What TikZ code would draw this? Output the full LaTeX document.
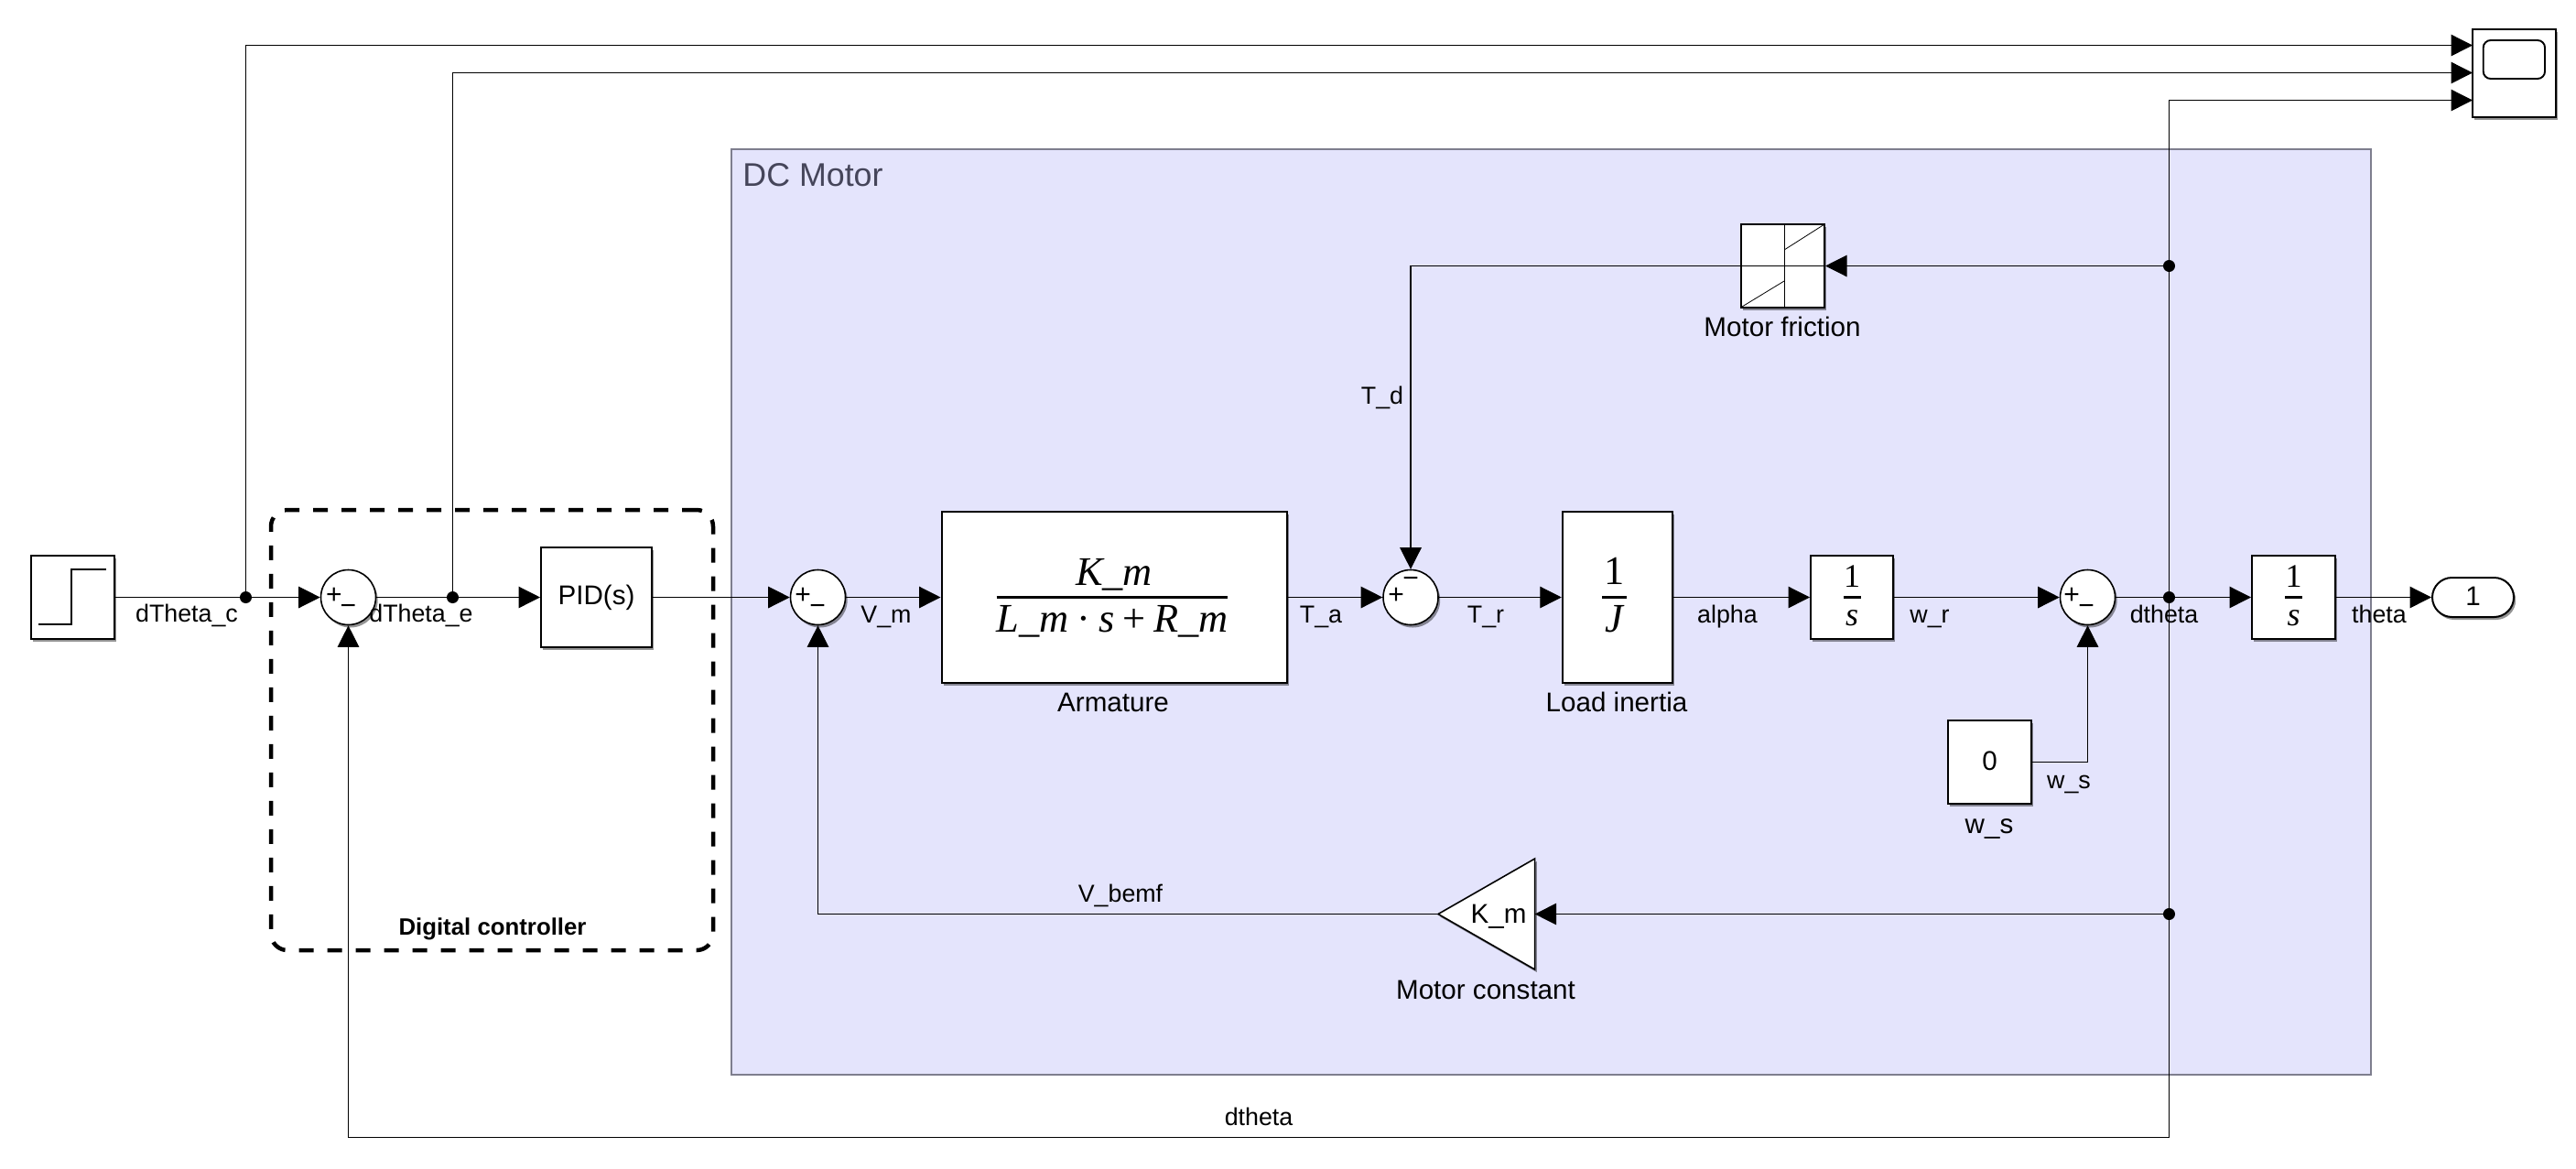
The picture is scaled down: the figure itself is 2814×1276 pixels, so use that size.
\documentclass[tikz,border=0pt]{standalone}
\usepackage{fontspec}
\setmainfont{Liberation Sans}
\newfontfamily\mathserif{Liberation Serif}
\usetikzlibrary{arrows.meta,shadows,shapes.misc}
\definecolor{scopefill}{HTML}{E4E4FC}
\definecolor{scopeedge}{HTML}{7E7E8E}
\definecolor{scopetext}{HTML}{45455A}
\newcommand{\lblsize}{\fontsize{13.4}{16}\selectfont}
\newcommand{\namesize}{\fontsize{14.8}{18}\selectfont}
\newcommand{\fracsize}{\mathserif\fontsize{22.2}{26}\selectfont}
\newcommand{\intsize}{\mathserif\fontsize{18}{22}\selectfont}
\tikzset{
  x=0.5pt,y=-0.5pt,
  softshadow/.style={general shadow={fill=black,opacity=.42,shadow xshift=1.1pt,shadow yshift=-1.5pt}},
  block/.style={draw=black,line width=1pt,fill=white,inner sep=0pt,softshadow,font=\namesize},
  sumblock/.style={circle,draw=black,line width=0.8pt,fill=white,inner sep=0pt,minimum size=30pt,softshadow},
  junction/.style={circle,fill=black,inner sep=0pt,minimum size=6.5pt},
  wire/.style={line width=0.6pt,draw=black},
  flow/.style={wire,-{Triangle[length=11.75pt,width=11.75pt]}},
  lbl/.style={anchor=base,inner sep=0pt,font=\lblsize},
  blockname/.style={anchor=base,inner sep=0pt,font=\namesize},
  sign/.style={inner sep=0pt,font=\fontsize{15}{18}\selectfont},
  fracpart/.style={anchor=base,inner sep=0pt,font=\fracsize},
  intpart/.style={anchor=base,inner sep=0pt,font=\intsize},
  bar/.style={line width=1.15pt,draw=black},
}
\begin{document}
\begin{tikzpicture}
\useasboundingbox (0,0) rectangle (2814,1276);
% subsystem area
\node[draw=scopeedge,line width=0.6pt,fill=scopefill,minimum width=895.5pt,minimum height=505.5pt,inner sep=0pt] (motorarea) at (1694.5,668.5) {};
\node[anchor=base west,inner sep=0pt,text=scopetext,font=\fontsize{17.9}{21}\selectfont] (motortitle) at (811,203) {DC Motor};
% controller frame
\node[draw=black,line width=2.25pt,dash pattern=on 8pt off 7.5pt,rounded corners=9pt,minimum width=241.5pt,minimum height=240.5pt,inner sep=0pt] (ctrlframe) at (537.5,797.5) {};
\node[anchor=base,inner sep=0pt,font=\bfseries\fontsize{12.9}{15}\selectfont] (ctrlname) at (538,1021) {Digital controller};
% blocks
\node[block,minimum width=45.5pt,minimum height=45.5pt] (step) at (79,652.5) {};
\draw[line width=0.75pt] (42,682) -- (78,682) -- (78,622) -- (116,622);
\node[sumblock] (sum1) at (380.5,652.5) {};
\node[sign] (p1) at (365,651) {+};
\node[sign] (m1) at (380.5,666) {−};
\node[block,minimum width=60.5pt,minimum height=54.5pt] (pid) at (651.5,652.5) {PID(s)};
\node[sumblock] (sum2) at (893.5,652.5) {};
\node[sign] (p2) at (877,651) {+};
\node[sign] (m2) at (893,666) {−};
\node[block,minimum width=188.5pt,minimum height=93.5pt] (arm) at (1217,652.5) {};
\node[fracpart] (armnum) at (1217,639) {\itshape K\_m};
\node[fracpart] (armden) at (1215,690) {\itshape L\_m\hspace{.2em}{\upshape·}\hspace{.2em}s\hspace{.2em}{\upshape+}\hspace{.2em}R\_m};
\draw[bar] (1088.5,652.5) -- (1341,652.5);
\node[blockname] (armname) at (1216,777) {Armature};
\node[sumblock] (sum3) at (1541,652.5) {};
\node[sign] (p3) at (1525,651) {+};
\node[sign] (m3) at (1541,636) {−};
\node[block,minimum width=60.25pt,minimum height=93.5pt] (inertia) at (1767,652.5) {};
\node[fracpart] (jnum) at (1763.5,638) {1};
\node[fracpart] (jden) at (1763.5,690) {\itshape J};
\draw[bar] (1750,652.5) -- (1777,652.5);
\node[blockname] (inertianame) at (1766,777) {Load inertia};
\node[block,minimum width=45pt,minimum height=45.5pt] (int1) at (2023,652.5) {};
\node[intpart] (i1num) at (2023,641) {1};
\node[intpart] (i1den) at (2023,683) {\itshape s};
\draw[bar] (2014,652.5) -- (2033,652.5);
\node[sumblock] (sum4) at (2280.5,652.5) {};
\node[sign] (p4) at (2263,651) {+};
\node[sign] (m4) at (2279,666) {−};
\node[block,minimum width=45.5pt,minimum height=45.5pt] (int2) at (2505.5,652.5) {};
\node[intpart] (i2num) at (2505.5,641) {1};
\node[intpart] (i2den) at (2505.5,683) {\itshape s};
\draw[bar] (2496,652.5) -- (2515,652.5);
\node[block,rounded rectangle,minimum width=44.5pt,minimum height=21.5pt] (outport) at (2701.5,652.5) {\raisebox{1pt}{1}};
\node[block,minimum width=45.25pt,minimum height=45.5pt] (wsblock) at (2173.5,832.5) {\raisebox{1pt}{0}};
\node[blockname] (wsname) at (2173,910) {w\_s};
% friction block
\node[block,minimum width=45.5pt,minimum height=45.5pt] (friction) at (1947.5,290.5) {};
\draw[line width=0.4pt] (1949,245) -- (1949,335) (1903,290.5) -- (1993,290.5);
\draw[line width=0.4pt] (1903,335) -- (1949,307) (1949,273) -- (1993,245);
\node[blockname] (frictionname) at (1947,367) {Motor friction};
% gain
\coordinate (gaintip) at (1571,998.5);
\coordinate (gainin) at (1676.6,998.5);
\draw[line width=0.8pt,fill=white,softshadow] (gaintip) -- (1676.6,938) -- (1676.6,1059) -- cycle;
\node[blockname] (gainlabel) at (1637,1008) {K\_m};
\node[blockname] (gainname) at (1623,1091) {Motor constant};
% scope
\node[block,minimum width=45.75pt,minimum height=48pt] (scope) at (2746.5,79.5) {};
\draw[line width=0.95pt,rounded corners=4pt] (2712.7,44) rectangle (2780,86);
\coordinate (scopeA) at (2701,49.5);
\coordinate (scopeB) at (2701,79.5);
\coordinate (scopeC) at (2701,109.5);
% junctions
\node[junction] (jc) at (268.5,652.5) {};
\node[junction] (je) at (494.5,652.5) {};
\node[junction] (jd) at (2369.5,652.5) {};
\node[junction] (jf) at (2369.5,290.5) {};
\node[junction] (jg) at (2369.5,998.5) {};
\coordinate (bottomturn) at (2369.5,1242.5);
% connectors
\draw[wire] (step.east) -- (jc);
\draw[flow] (jc) -- (sum1.west);
\draw[flow] (jc) |- (scopeA);
\draw[wire] (sum1.east) -- (je);
\draw[flow] (je) -- (pid.west);
\draw[flow] (je) |- (scopeB);
\draw[flow] (pid.east) -- (sum2.west);
\draw[flow] (sum2.east) -- (arm.west);
\draw[flow] (arm.east) -- (sum3.west);
\draw[flow] (sum3.east) -- (inertia.west);
\draw[flow] (inertia.east) -- (int1.west);
\draw[flow] (int1.east) -- (sum4.west);
\draw[wire] (sum4.east) -- (jd);
\draw[flow] (jd) -- (int2.west);
\draw[flow] (int2.east) -- (outport.west);
\draw[flow] (wsblock.east) -| (sum4.south);
\draw[flow] (jd) |- (scopeC);
\draw[flow] (jd) -- (bottomturn) -| (sum1.south);
\draw[wire] (jd) -- (jg);
\draw[flow] (jf) -- (friction.east);
\draw[flow] (friction.west) -| (sum3.north);
\draw[flow] (jg) -- (gainin);
\draw[flow] (gaintip) -| (sum2.south);
% signal labels
\node[lbl] (ldc) at (204,679) {dTheta\_c};
\node[lbl] (lde) at (460,679) {dTheta\_e};
\node[lbl] (lvm) at (968,680) {V\_m};
\node[lbl] (lta) at (1443,680) {T\_a};
\node[lbl] (ltr) at (1623,680) {T\_r};
\node[lbl] (lal) at (1887,680) {alpha};
\node[lbl] (lwr) at (2108,680) {w\_r};
\node[lbl] (ldt) at (2364,680) {dtheta};
\node[lbl] (lth) at (2599,680) {theta};
\node[lbl] (lws) at (2260,861) {w\_s};
\node[lbl] (ltd) at (1510,441) {T\_d};
\node[lbl] (lvb) at (1224,985) {V\_bemf};
\node[lbl] (ldb) at (1375,1229) {dtheta};
\end{tikzpicture}
\end{document}
